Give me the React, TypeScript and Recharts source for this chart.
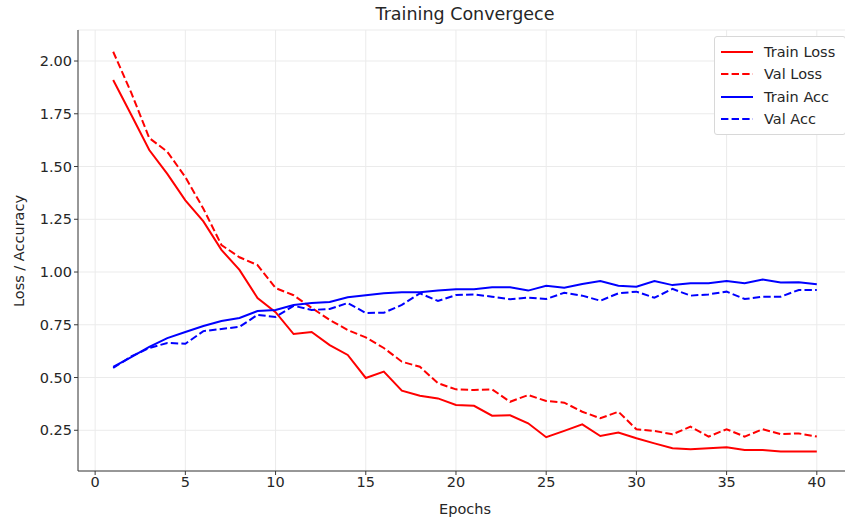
import { CartesianGrid, Line, LineChart, XAxis, YAxis } from "recharts";

const epochs = [
  1, 2, 3, 4, 5, 6, 7, 8, 9, 10, 11, 12, 13, 14, 15, 16, 17, 18, 19, 20,
  21, 22, 23, 24, 25, 26, 27, 28, 29, 30, 31, 32, 33, 34, 35, 36, 37, 38, 39, 40,
];
const trainLoss = [
  1.91, 1.745, 1.578, 1.465, 1.34, 1.24, 1.105, 1.01, 0.877, 0.81, 0.706, 0.716, 0.654, 0.607,
  0.498, 0.528, 0.438, 0.414, 0.401, 0.37, 0.366, 0.319, 0.321, 0.283, 0.217, 0.247, 0.278,
  0.223, 0.239, 0.212, 0.188, 0.165, 0.16, 0.165, 0.169, 0.157, 0.157, 0.149, 0.149, 0.149,
];
const valLoss = [
  2.044, 1.85, 1.635, 1.57, 1.45, 1.3, 1.128, 1.07, 1.033, 0.924, 0.89, 0.83, 0.773, 0.725,
  0.69, 0.64, 0.575, 0.551, 0.473, 0.444, 0.441, 0.444, 0.385, 0.417, 0.389, 0.381, 0.338,
  0.307, 0.338, 0.255, 0.247, 0.231, 0.267, 0.22, 0.255, 0.22, 0.255, 0.232, 0.235, 0.22,
];
const trainAcc = [
  0.55, 0.597, 0.645, 0.687, 0.716, 0.744, 0.768, 0.782, 0.815, 0.82, 0.844, 0.853, 0.858, 0.88,
  0.89, 0.899, 0.904, 0.904, 0.912, 0.918, 0.918, 0.928, 0.928, 0.912, 0.935, 0.926, 0.943,
  0.957, 0.935, 0.93, 0.957, 0.938, 0.947, 0.947, 0.957, 0.947, 0.965, 0.95, 0.952, 0.942,
];
const valAcc = [
  0.545, 0.6, 0.64, 0.664, 0.66, 0.72, 0.73, 0.74, 0.797, 0.787, 0.84, 0.82, 0.825, 0.853,
  0.806, 0.807, 0.844, 0.899, 0.863, 0.891, 0.894, 0.883, 0.871, 0.879, 0.872, 0.902, 0.888,
  0.864, 0.899, 0.907, 0.878, 0.92, 0.888, 0.894, 0.907, 0.872, 0.883, 0.883, 0.915, 0.915,
];
const xTicks = [0, 5, 10, 15, 20, 25, 30, 35, 40];
const yTicks = [0.25, 0.5, 0.75, 1.0, 1.25, 1.5, 1.75, 2.0];

const series = [
  { key: "trainLoss", name: "Train Loss", color: "#ff0000", dash: undefined },
  { key: "valLoss", name: "Val Loss", color: "#ff0000", dash: "7.4 3.2" },
  { key: "trainAcc", name: "Train Acc", color: "#0000ff", dash: undefined },
  { key: "valAcc", name: "Val Acc", color: "#0000ff", dash: "7.4 3.2" },
];

const data = epochs.map((e, i) => ({
  epoch: e,
  trainLoss: trainLoss[i],
  valLoss: valLoss[i],
  trainAcc: trainAcc[i],
  valAcc: valAcc[i],
}));

const FONT = "'DejaVu Sans', sans-serif";
const TEXT = "#262626";
const AXIS = "#3a3a3a";

// matplotlib-style boxed legend in the upper right
function LegendBox() {
  return (
    <div
      style={{
        position: "absolute",
        left: 714,
        top: 36,
        width: 132,
        padding: "4px 0 4px 5px",
        background: "#fff",
        border: "1px solid #d8d8d8",
        borderRadius: 3,
        fontFamily: FONT,
        fontSize: 14.5,
        color: TEXT,
        boxSizing: "border-box",
      }}
    >
      {series.map((s) => (
        <div key={s.key} style={{ display: "flex", alignItems: "center", height: 22.3 }}>
          <svg width={44} height={10}>
            <line x1={1} y1={5} x2={33} y2={5} stroke={s.color} strokeWidth={2} strokeDasharray={s.dash} />
          </svg>
          <span>{s.name}</span>
        </div>
      ))}
    </div>
  );
}

export default function App() {
  return (
    <div
      style={{
        position: "absolute",
        left: 0,
        top: 0,
        width: 845,
        height: 521,
        overflow: "hidden",
        background: "#fff",
        fontFamily: FONT,
      }}
    >
      <div
        style={{
          position: "absolute",
          top: 4,
          left: 265,
          width: 400,
          textAlign: "center",
          fontSize: 17.5,
          color: TEXT,
        }}
      >
        Training Convergece
      </div>
      <div
        style={{
          position: "absolute",
          top: 501,
          left: 365,
          width: 200,
          textAlign: "center",
          fontSize: 14.5,
          color: TEXT,
        }}
      >
        Epochs
      </div>
      <div
        style={{
          position: "absolute",
          left: 19,
          top: 251,
          transform: "translate(-50%, -50%) rotate(-90deg)",
          whiteSpace: "nowrap",
          fontSize: 14.5,
          color: TEXT,
        }}
      >
        Loss / Accuracy
      </div>
      <LineChart
        width={860}
        height={521}
        data={data}
        margin={{ top: 30, right: 8, bottom: 20, left: 18 }}
        style={{ position: "absolute", left: 0, top: 0 }}
      >
        <CartesianGrid stroke="#ebebeb" strokeWidth={1} />
        <XAxis
          dataKey="epoch"
          type="number"
          domain={[-0.95, 41.95]}
          ticks={xTicks}
          height={30}
          stroke={AXIS}
          tickSize={4}
          tick={{ fill: TEXT, fontSize: 14.5, fontFamily: FONT }}
          allowDataOverflow
        />
        <XAxis
          xAxisId="top"
          orientation="top"
          type="number"
          domain={[-0.95, 41.95]}
          height={0}
          tick={false}
          tickLine={false}
          stroke={AXIS}
          allowDataOverflow
        />
        <YAxis
          type="number"
          domain={[0.057, 2.147]}
          ticks={yTicks}
          width={60}
          stroke={AXIS}
          tickSize={4}
          tickFormatter={(v: number) => v.toFixed(2)}
          tick={{ fill: TEXT, fontSize: 14.5, fontFamily: FONT }}
          allowDataOverflow
        />
        {series.map((s) => (
          <Line
            key={s.key}
            type="linear"
            dataKey={s.key}
            name={s.name}
            stroke={s.color}
            strokeWidth={2}
            strokeDasharray={s.dash}
            dot={false}
            activeDot={false}
            isAnimationActive={false}
          />
        ))}
      </LineChart>
      <LegendBox />
    </div>
  );
}
